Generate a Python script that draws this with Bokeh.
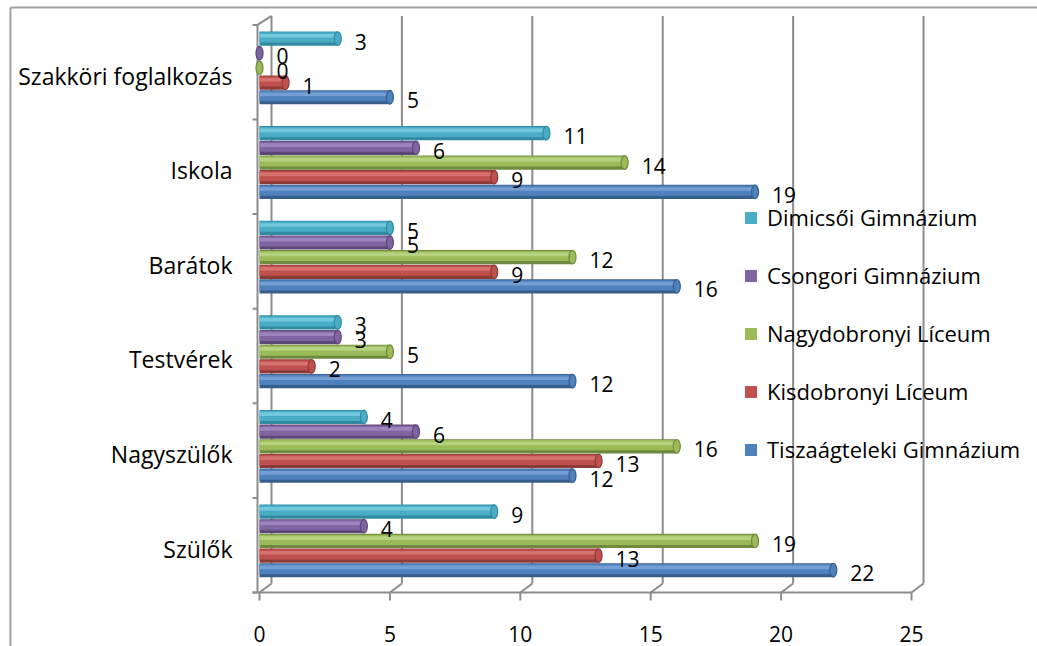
import numpy as np
from bokeh.plotting import figure
from bokeh.models import Range1d, FixedTicker, Legend, LegendItem, ColumnDataSource
from bokeh.transform import dodge
from bokeh.embed import file_html
from bokeh.resources import INLINE
from bokeh.core.properties import value

# ---------------- data ----------------
categories = ["Szülők", "Nagyszülők", "Testvérek", "Barátok", "Iskola", "Szakköri foglalkozás"]
series_names = ["Tiszaágteleki Gimnázium", "Kisdobronyi Líceum", "Nagydobronyi Líceum",
                "Csongori Gimnázium", "Dimicsői Gimnázium"]
tiszaagteleki = [22, 12, 12, 16, 19, 5]
kisdobronyi = [13, 13, 2, 9, 9, 1]
nagydobronyi = [19, 16, 5, 12, 14, 0]
csongori = [4, 6, 3, 5, 6, 0]
dimicsoi = [9, 4, 3, 5, 11, 3]
x_ticks = [0, 5, 10, 15, 20, 25]

series_values = [tiszaagteleki, kisdobronyi, nagydobronyi, csongori, dimicsoi]

# ---------------- style ----------------
FONT = "Open Sans"
FS_TXT = "23px"
FS_LEG = "22px"
FS_NUM = "21px"
base_cols = ["#4F81BD", "#C0504D", "#9BBB59", "#8064A2", "#4BACC6"]
dark_cols = ["#385E8C", "#8C3A38", "#6F8A3E", "#5C4877", "#2F8AA2"]
light_cols = ["#7EA6DA", "#DA7A77", "#BCD88A", "#A28CC3", "#7ED0E4"]
LINE = "#8C8C8C"

BAR_H = 0.15
SLOT = 0.155
GROUP_SHIFT = 0.08
DX, DY = 0.46, 0.095          # 3D depth offset
FLOOR_Y = -0.465
WALL_X = -0.077
TICK_L = -0.268
TICK_B = -0.55

p = figure(width=1037, height=646, output_backend="svg", toolbar_location=None,
           x_range=Range1d(-0.537, 29.83), y_range=Range1d(-0.6025, 5.666),
           min_border_left=245, min_border_right=0, min_border_top=12, min_border_bottom=41)
p.xgrid.visible = False
p.ygrid.visible = False
p.outline_line_color = None
p.background_fill_color = "white"
p.border_fill_color = "white"

ncat = len(categories)
top_y = FLOOR_Y + ncat

# ---- back wall gridlines & floor slants ----
gx = [v + DX for v in x_ticks]
p.segment(x0=gx, y0=[FLOOR_Y + DY] * len(gx), x1=gx, y1=[top_y + DY] * len(gx),
          line_color=LINE, line_width=2)
p.segment(x0=x_ticks, y0=[FLOOR_Y] * len(x_ticks), x1=gx, y1=[FLOOR_Y + DY] * len(gx),
          line_color=LINE, line_width=2)
# bottom ticks
p.segment(x0=x_ticks, y0=[FLOOR_Y] * len(x_ticks), x1=x_ticks, y1=[TICK_B] * len(x_ticks),
          line_color=LINE, line_width=2)
# floor front line
p.segment(x0=[TICK_L], y0=[FLOOR_Y], x1=[x_ticks[-1]], y1=[FLOOR_Y], line_color=LINE, line_width=2)
# left wall
p.segment(x0=[WALL_X], y0=[FLOOR_Y], x1=[WALL_X], y1=[top_y], line_color=LINE, line_width=2)
p.segment(x0=[WALL_X], y0=[top_y], x1=[WALL_X + DX + 0.08], y1=[top_y + DY], line_color=LINE, line_width=2)
bnd = [FLOOR_Y + k for k in range(ncat + 1)]
p.segment(x0=[TICK_L] * len(bnd), y0=bnd, x1=[WALL_X] * len(bnd), y1=bnd, line_color=LINE, line_width=2)

# ---- bars (cylinders) ----
src = ColumnDataSource(dict(y=list(range(ncat)),
                            **{f"s{k}": series_values[k] for k in range(5)},
                            **{f"l{k}": [str(v) for v in series_values[k]] for k in range(5)}))

main_renderers = []
for k in range(5):
    off = GROUP_SHIFT + (k - 2) * SLOT
    f = f"s{k}"
    p.hbar(y=dodge("y", off), left=0, right=f, height=BAR_H, source=src,
           fill_color=dark_cols[k], line_color=None)
    r = p.hbar(y=dodge("y", off + 0.08 * BAR_H), left=0, right=f, height=BAR_H * 0.72, source=src,
               fill_color=base_cols[k], line_color=None)
    main_renderers.append(r)
    p.hbar(y=dodge("y", off + 0.2 * BAR_H), left=0, right=f, height=BAR_H * 0.26, source=src,
           fill_color=light_cols[k], fill_alpha=0.8, line_color=None)
    p.ellipse(x=f, y=dodge("y", off), width=7, width_units="screen", height=BAR_H * 0.96,
              source=src, fill_color=base_cols[k], line_color=dark_cols[k], line_width=1.2)
    p.text(x=f, y=dodge("y", off), text=f"l{k}", source=src, x_offset=17, y_offset=3,
           text_align="left", text_baseline="middle", text_font=value(FONT),
           text_font_size=FS_NUM, text_color="#000000")

# ---- axes ----
p.yaxis.ticker = FixedTicker(ticks=list(range(ncat)))
p.yaxis.major_label_overrides = {i: c for i, c in enumerate(categories)}
p.xaxis.ticker = FixedTicker(ticks=x_ticks)
for ax in (p.xaxis, p.yaxis):
    ax.axis_line_color = None
    ax.major_tick_line_color = None
    ax.minor_tick_line_color = None
    ax.major_label_text_font = FONT
    ax.major_label_text_color = "#000000"
p.yaxis.major_label_text_font_size = FS_TXT
p.xaxis.major_label_text_font_size = FS_NUM
p.yaxis.major_label_standoff = 7
p.xaxis.major_label_standoff = 14

# ---- legend ----
items = [LegendItem(label=series_names[k], renderers=[main_renderers[k]]) for k in reversed(range(5))]
leg = Legend(items=items, location=(498, 140), orientation="vertical",
             glyph_width=15, glyph_height=15, label_height=32, spacing=26,
             label_standoff=9, padding=0, margin=0,
             label_text_font=FONT, label_text_font_size=FS_LEG, label_text_color="#000000",
             border_line_color=None, background_fill_alpha=0)
p.add_layout(leg, "center")

# ---- outer chart border ----
p.segment(x0=[-9.55, -9.55], y0=[5.72, 5.72], x1=[30.2, -9.55], y1=[5.72, -1.1],
          line_color="#A0A0A0", line_width=2, level="overlay")

open("out.html", "w").write(file_html(p, INLINE))
